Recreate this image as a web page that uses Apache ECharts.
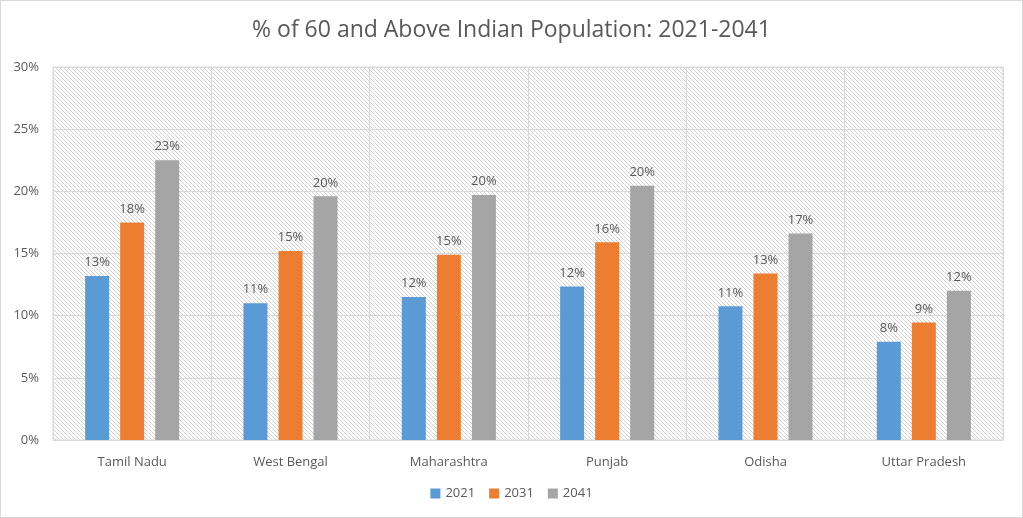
<!DOCTYPE html>
<html>
<head>
<meta charset="utf-8">
<script src="https://cdn.jsdelivr.net/npm/echarts@6/dist/echarts.min.js"></script>
<style>
html,body{margin:0;padding:0;background:#fff;}
#c{width:1021px;height:516px;border:1px solid #d9d9d9;}
</style>
</head>
<body>
<div id="c"></div>
<script>
const categories = ['Tamil Nadu','West Bengal','Maharashtra','Punjab','Odisha','Uttar Pradesh'];
const seriesNames = ['2021','2031','2041'];
const v2021 = [13.2, 11.0, 11.5, 12.35, 10.75, 7.9];
const v2031 = [17.5, 15.2, 14.9, 15.9, 13.4, 9.45];
const v2041 = [22.5, 19.6, 19.7, 20.45, 16.6, 12.0];
const yTicks = [0,5,10,15,20,25,30];

const pc = document.createElement('canvas');
pc.width = 8; pc.height = 8;
const g = pc.getContext('2d');
g.fillStyle = '#ffffff'; g.fillRect(0,0,8,8);
g.strokeStyle = '#d2d2d2'; g.lineWidth = 1;
for (let k = -8; k <= 16; k += 4) {
  g.beginPath(); g.moveTo(k, 0); g.lineTo(k + 8, 8); g.stroke();
}

const colors = ['#5B9BD5','#ED7D31','#A5A5A5'];
const font = '"Open Sans", "Liberation Sans", sans-serif';
const chart = echarts.init(document.getElementById('c'));
const mk = (name, data, i) => ({
  name, type:'bar', data, barWidth:24, barGap:'46%',
  itemStyle:{color:colors[i]},
  label:{show:true, position:'top', distance:7, color:'#595959', fontSize:13, fontFamily:font,
    formatter:p => Math.round(p.value) + '%'}
});
chart.setOption({
  animation:false,
  textStyle:{fontFamily:font},
  title:{text:'% of 60 and Above Indian Population: 2021-2041', left:'center', top:13,
    textStyle:{color:'#595959', fontSize:23, fontWeight:'normal', fontFamily:font}},
  legend:{bottom:12, left:'center', itemWidth:10, itemHeight:10, itemGap:14, icon:'rect',
    textStyle:{color:'#595959', fontSize:13, fontFamily:font}},
  grid:{left:52, right:19, top:66, bottom:77, show:true, borderColor:'#d9d9d9', borderWidth:1,
    backgroundColor:{image:pc, repeat:'repeat'}},
  xAxis:{type:'category', data:categories,
    axisLine:{lineStyle:{color:'#d9d9d9'}}, axisTick:{show:false},
    axisLabel:{color:'#595959', fontSize:13, margin:16, fontFamily:font},
    splitLine:{show:true, lineStyle:{color:'#d9d9d9'}}},
  yAxis:{type:'value', min:yTicks[0], max:yTicks[yTicks.length-1], interval:5,
    axisLine:{show:false}, axisTick:{show:false},
    axisLabel:{color:'#595959', fontSize:13, margin:14, formatter:v=>v+'%', fontFamily:font},
    splitLine:{lineStyle:{color:'#d9d9d9'}}},
  series:[mk(seriesNames[0], v2021, 0), mk(seriesNames[1], v2031, 1), mk(seriesNames[2], v2041, 2)]
});
</script>
</body>
</html>
